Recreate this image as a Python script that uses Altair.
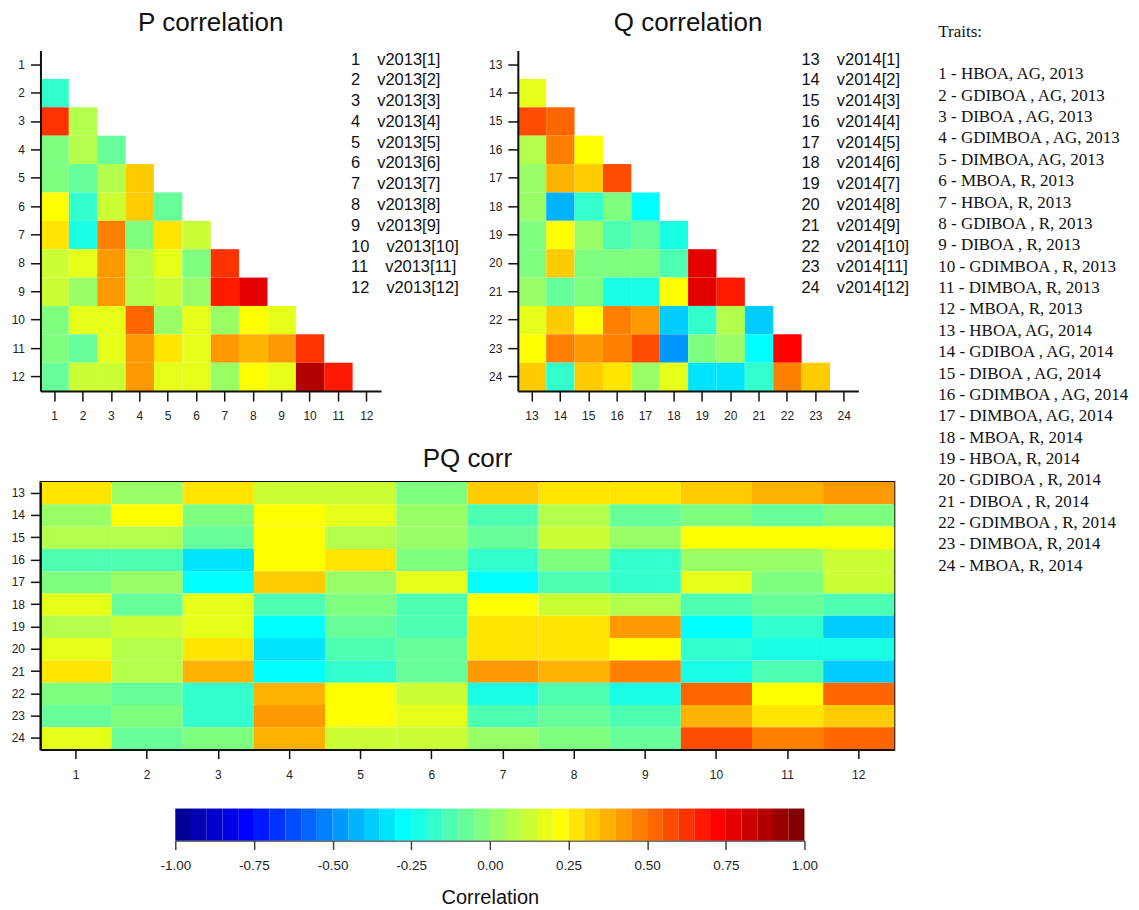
import altair as alt
import pandas as pd

# ---------------- data ----------------
TRAITS_P = list(range(1, 13))
TRAITS_Q = list(range(13, 25))

# lower triangle of P correlation (rows 2..12, columns 1..row-1)
P_LOWER = [
    [-0.18],
    [0.62, 0.08],
    [-0.02, 0.08, -0.08],
    [-0.02, -0.08, 0.08, 0.33],
    [0.22, -0.18, 0.13, 0.33, -0.08],
    [0.28, -0.22, 0.48, -0.02, 0.28, 0.13],
    [0.12, 0.18, 0.42, 0.08, 0.18, -0.02, 0.62],
    [0.13, 0.03, 0.42, 0.08, 0.13, 0.03, 0.68, 0.77],
    [-0.02, 0.18, 0.18, 0.52, 0.03, 0.18, 0.03, 0.22, 0.18],
    [-0.02, -0.08, 0.18, 0.42, 0.28, 0.18, 0.42, 0.37, 0.42, 0.62],
    [-0.08, 0.13, 0.13, 0.42, 0.18, 0.18, 0.03, 0.22, 0.18, 0.88, 0.68],
]

# lower triangle of Q correlation (rows 14..24, columns 13..row-1)
Q_LOWER = [
    [0.18],
    [0.57, 0.53],
    [0.08, 0.48, 0.23],
    [0.03, 0.37, 0.33, 0.57],
    [0.03, -0.42, -0.18, -0.02, -0.29],
    [-0.02, 0.22, 0.03, -0.13, -0.08, -0.22],
    [-0.02, 0.33, -0.02, -0.02, -0.02, -0.13, 0.77],
    [0.03, -0.08, -0.02, -0.22, -0.22, 0.22, 0.77, 0.68],
    [0.18, 0.33, 0.22, 0.48, 0.42, -0.37, -0.18, 0.06, -0.37],
    [0.22, 0.48, 0.42, 0.48, 0.57, -0.48, -0.02, 0.03, -0.28, 0.72],
    [0.33, -0.18, 0.33, 0.28, 0.03, 0.18, -0.32, -0.32, -0.18, 0.48, 0.33],
]

# PQ correlation (rows 13..24, columns 1..12)
PQ = [
    [0.28, 0.03, 0.28, 0.13, 0.13, -0.02, 0.33, 0.28, 0.28, 0.33, 0.37, 0.42],
    [0.03, 0.22, -0.02, 0.22, 0.18, 0.03, -0.12, 0.08, -0.08, -0.02, -0.08, -0.02],
    [0.08, 0.08, -0.08, 0.22, 0.08, 0.03, -0.08, 0.13, 0.03, 0.22, 0.22, 0.22],
    [-0.12, -0.13, -0.32, 0.22, 0.28, -0.02, -0.18, -0.02, -0.18, 0.03, 0.03, 0.13],
    [-0.02, 0.03, -0.28, 0.33, 0.03, 0.18, -0.29, -0.12, -0.18, 0.18, -0.02, 0.13],
    [0.18, -0.08, 0.18, -0.13, -0.02, -0.12, 0.22, 0.13, 0.08, -0.12, -0.08, -0.12],
    [0.08, 0.13, 0.18, -0.29, -0.08, -0.12, 0.28, 0.28, 0.42, -0.28, -0.18, -0.37],
    [0.18, 0.08, 0.28, -0.32, -0.12, -0.08, 0.28, 0.28, 0.22, -0.18, -0.22, -0.22],
    [0.28, 0.08, 0.37, -0.28, -0.18, -0.08, 0.42, 0.37, 0.48, -0.22, -0.12, -0.37],
    [-0.02, -0.08, -0.18, 0.37, 0.22, 0.13, -0.22, -0.12, -0.22, 0.52, 0.22, 0.52],
    [-0.08, -0.02, -0.18, 0.42, 0.22, 0.18, -0.12, -0.08, -0.12, 0.37, 0.28, 0.33],
    [0.18, -0.08, -0.02, 0.37, 0.13, 0.13, 0.03, -0.02, -0.08, 0.57, 0.48, 0.52],
]

GAP = "\u00a0\u00a0\u00a0\u2009"
P_LEGEND = [f"{i}{GAP}v2013[{i}]" for i in TRAITS_P]
Q_LEGEND = [f"{t}{GAP}v2014[{i}]" for i, t in zip(TRAITS_P, TRAITS_Q)]

TRAIT_NAMES = [
    "HBOA, AG, 2013", "GDIBOA , AG, 2013", "DIBOA , AG, 2013", "GDIMBOA , AG, 2013",
    "DIMBOA, AG, 2013", "MBOA, R, 2013", "HBOA, R, 2013", "GDIBOA , R, 2013",
    "DIBOA , R, 2013", "GDIMBOA , R, 2013", "DIMBOA, R, 2013", "MBOA, R, 2013",
    "HBOA, AG, 2014", "GDIBOA , AG, 2014", "DIBOA , AG, 2014", "GDIMBOA , AG, 2014",
    "DIMBOA, AG, 2014", "MBOA, R, 2014", "HBOA, R, 2014", "GDIBOA , R, 2014",
    "DIBOA , R, 2014", "GDIMBOA , R, 2014", "DIMBOA, R, 2014", "MBOA, R, 2014",
]
TRAIT_LINES = ["Traits:", ""] + [f"{i} - {n}" for i, n in enumerate(TRAIT_NAMES, start=1)]

COLORBAR_TICKS = [-1.0, -0.75, -0.5, -0.25, 0.0, 0.25, 0.5, 0.75, 1.0]

# ---------------- palette (40-step jet ramp) ----------------
ANCHORS = ["#00007F", "#0000FF", "#007FFF", "#00FFFF", "#7FFF7F",
           "#FFFF00", "#FF7F00", "#FF0000", "#7F0000"]
N_BINS = 40


def _hex(c):
    return tuple(int(c[k:k + 2], 16) for k in (1, 3, 5))


PALETTE = []
for i in range(N_BINS):
    pos = (i + 1) / N_BINS * (len(ANCHORS) - 1)
    k = min(int(pos), len(ANCHORS) - 2)
    f = pos - k
    a, b = _hex(ANCHORS[k]), _hex(ANCHORS[k + 1])
    rgb = [round(a[j] + (b[j] - a[j]) * f) for j in range(3)]
    PALETTE.append("#%02X%02X%02X" % tuple(rgb))

COLOR_SCALE = alt.Scale(type="quantize", domain=[-1, 1], range=PALETTE, nice=False)

# ---------------- tables ----------------
p_df = pd.DataFrame([
    {"row": TRAITS_P[i + 1], "col": TRAITS_P[j], "r": v}
    for i, vals in enumerate(P_LOWER) for j, v in enumerate(vals)
])
q_df = pd.DataFrame([
    {"row": TRAITS_Q[i + 1], "col": TRAITS_Q[j], "r": v}
    for i, vals in enumerate(Q_LOWER) for j, v in enumerate(vals)
])
pq_df = pd.DataFrame([
    {"row": TRAITS_Q[i], "col": TRAITS_P[j], "r": v}
    for i, vals in enumerate(PQ) for j, v in enumerate(vals)
])
p_leg = pd.DataFrame({"k": list(range(1, 13)), "txt": P_LEGEND})
q_leg = pd.DataFrame({"k": list(range(1, 13)), "txt": Q_LEGEND})
traits_df = pd.DataFrame({"k": list(range(len(TRAIT_LINES))), "txt": TRAIT_LINES})
cbar_df = pd.DataFrame({
    "lo": [-1 + 2 * i / N_BINS for i in range(N_BINS)],
    "hi": [-1 + 2 * (i + 1) / N_BINS for i in range(N_BINS)],
})
cbar_df["mid"] = (cbar_df["lo"] + cbar_df["hi"]) / 2

SANS = "Liberation Sans"
SERIF = "Liberation Serif"
TITLE_KW = dict(fontSize=26, font=SANS, fontWeight="normal", anchor="middle",
                frame="group", color="#111")

AX = dict(title=None, labelAngle=0, labelFontSize=12, labelFont=SANS, labelColor="#222",
          tickSize=10, tickWidth=1.5, tickColor="#111", domainColor="#111",
          domainWidth=2, grid=False)

SIDE = 341


def tri_chart(df, leg, traits, title, leg_x):
    heat = alt.Chart(df).mark_rect().encode(
        x=alt.X("col:O", scale=alt.Scale(domain=traits, paddingInner=0, paddingOuter=0),
                axis=alt.Axis(labelPadding=9, **AX)),
        y=alt.Y("row:O", scale=alt.Scale(domain=traits, paddingInner=0, paddingOuter=0),
                axis=alt.Axis(labelPadding=6, **AX)),
        color=alt.Color("r:Q", scale=COLOR_SCALE, legend=None),
    )
    text = alt.Chart(leg).mark_text(align="left", baseline="middle", font=SANS,
                                    fontSize=16.5, color="#111").encode(
        x=alt.value(leg_x),
        y=alt.Y("k:Q", scale=alt.Scale(domain=[1, 12], range=[9, 238]), axis=None),
        text="txt:N",
    )
    return alt.layer(heat, text).resolve_scale(y="independent").properties(
        width=SIDE, height=SIDE, title=alt.TitleParams(title, offset=15, **TITLE_KW))


p_chart = tri_chart(p_df, p_leg, TRAITS_P, "P correlation", 311)
q_chart = tri_chart(q_df, q_leg, TRAITS_Q, "Q correlation", 284)

pq_chart = alt.Chart(pq_df).mark_rect().encode(
    x=alt.X("col:O", scale=alt.Scale(domain=TRAITS_P, paddingInner=0, paddingOuter=0),
            axis=alt.Axis(labelPadding=11, **{**AX, "tickSize": 9})),
    y=alt.Y("row:O", scale=alt.Scale(domain=TRAITS_Q, paddingInner=0, paddingOuter=0),
            axis=alt.Axis(labelPadding=6, **AX)),
    color=alt.Color("r:Q", scale=COLOR_SCALE, legend=None),
).properties(
    width=855, height=268,
    view=alt.ViewBackground(stroke="#111", strokeWidth=2),
    title=alt.TitleParams("PQ corr", offset=10, **TITLE_KW),
)

cbar = alt.Chart(cbar_df).mark_rect().encode(
    x=alt.X("lo:Q", scale=alt.Scale(domain=[-1, 1], range=[135, 765], nice=False, zero=False),
            axis=alt.Axis(values=COLORBAR_TICKS, format=".2f",
                          labelExpr="replace(datum.label, '\u2212', '-')",
                          title="Correlation", titleFont=SANS, titleFontSize=20,
                          titleFontWeight="normal", titleColor="#111", titlePadding=16,
                          labelFont=SANS, labelFontSize=13.5, labelColor="#222",
                          tickSize=9, tickWidth=1.5, tickColor="#444",
                          domainColor="#444", domainWidth=1.5, grid=False,
                          labelPadding=9, labelFlush=False)),
    x2="hi:Q",
    y=alt.value(3),
    y2=alt.value(35),
    color=alt.Color("mid:Q", scale=COLOR_SCALE, legend=None),
).properties(width=765, height=35)

traits_chart = alt.Chart(traits_df).mark_text(
    align="left", baseline="middle", font=SERIF, fontSize=17, color="#111"
).encode(
    x=alt.value(0),
    y=alt.Y("k:Q", scale=alt.Scale(domain=[0, 25], range=[-19, 516]), axis=None),
    text="txt:N",
).properties(width=185, height=520)

top_row = alt.hconcat(p_chart, q_chart, spacing=28)
left = alt.vconcat(top_row, pq_chart, cbar, spacing=23)
chart = alt.hconcat(left, traits_chart, spacing=27).properties(
    padding={"left": 1.5, "top": 0, "right": 0, "bottom": 0},
    background="white",
).configure_view(stroke="transparent")

chart.save("out.html", embed_options={"renderer": "svg", "actions": False})
